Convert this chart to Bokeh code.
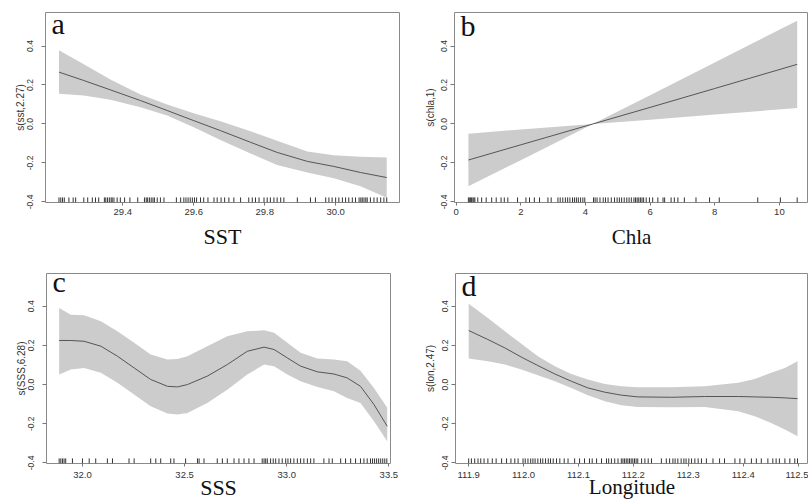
import math
from bokeh.plotting import figure
from bokeh.layouts import row, column
from bokeh.models import Range1d, FixedTicker, NumeralTickFormatter, Label, Title
from bokeh.embed import file_html
from bokeh.resources import INLINE

# ---------------- data ----------------
# (a) SST
a_x = [29.22, 29.29, 29.365, 29.45, 29.525, 29.6, 29.675, 29.76, 29.835, 29.92, 29.995, 30.07, 30.144]
a_fit = [0.266, 0.223, 0.175, 0.120, 0.069, 0.017, -0.034, -0.094, -0.146, -0.192, -0.218, -0.249, -0.275]
a_up = [0.378, 0.306, 0.228, 0.151, 0.100, 0.055, 0.014, -0.038, -0.086, -0.141, -0.160, -0.168, -0.172]
a_lo = [0.155, 0.146, 0.124, 0.086, 0.043, -0.017, -0.082, -0.151, -0.211, -0.249, -0.278, -0.319, -0.378]
a_rug = [29.220, 29.225, 29.230, 29.235, 29.248, 29.260, 29.267, 29.290, 29.301, 29.314, 29.323, 29.332,
         29.348, 29.352, 29.357, 29.362, 29.367, 29.370, 29.375, 29.384, 29.393, 29.405, 29.420, 29.442,
         29.461, 29.466, 29.470, 29.475, 29.480, 29.485, 29.489, 29.497, 29.506, 29.516,
         29.551, 29.563, 29.572, 29.578, 29.584, 29.590, 29.596, 29.602, 29.608, 29.619, 29.628, 29.640,
         29.657, 29.666, 29.677, 29.687, 29.699, 29.713, 29.732, 29.755, 29.765, 29.774, 29.784,
         29.798, 29.807, 29.816, 29.826, 29.835, 29.845, 29.854, 29.892, 29.929, 29.943, 29.972,
         29.981, 29.990, 30.000, 30.009, 30.019, 30.028, 30.037, 30.047, 30.056,
         30.066, 30.071, 30.075, 30.080, 30.085, 30.089, 30.098, 30.108, 30.117, 30.127, 30.136, 30.144]
a_xticks = [29.4, 29.6, 29.8, 30.0]

# (b) Chla
b_x = [0.38, 2.0, 4.23, 6.0, 8.0, 10.55]
b_fit = [-0.185, -0.107, 0.0, 0.085, 0.182, 0.306]
b_up = [-0.050, -0.028, 0.0, 0.148, 0.316, 0.530]
b_lo = [-0.320, -0.186, 0.0, 0.022, 0.048, 0.082]
b_rug = [0.38, 0.42, 0.45, 0.48, 0.52, 0.55, 0.58, 0.67, 0.79, 0.93, 1.10, 1.24, 1.39, 1.49, 1.60, 1.90,
         2.16, 2.27, 2.42, 2.58, 2.84, 2.94, 3.15, 3.22, 3.30, 3.38, 3.45, 3.52, 3.60, 3.66, 3.72, 3.78,
         3.85, 3.92, 3.98, 4.25, 4.30, 4.36, 4.45, 4.55, 4.62, 4.70, 4.80, 4.90, 4.98, 5.05, 5.12, 5.20,
         5.28, 5.35, 5.42, 5.50, 5.55, 5.60, 5.65, 5.70, 5.75, 5.80, 5.88, 5.98, 6.08, 6.24, 6.40, 6.45,
         6.65, 6.75, 6.86, 7.06, 7.42, 7.84, 8.14, 9.33, 10.03, 10.55]
b_xticks = [0, 2, 4, 6, 8, 10]

# (c) SSS
c_x = [31.886, 31.943, 32.008, 32.090, 32.171, 32.253, 32.334, 32.416, 32.465, 32.514, 32.611, 32.709,
       32.807, 32.889, 32.938, 33.003, 33.068, 33.150, 33.231, 33.296, 33.361, 33.427, 33.492]
c_fit = [0.225, 0.225, 0.221, 0.196, 0.145, 0.085, 0.026, -0.009, -0.012, 0.0, 0.043, 0.102,
         0.170, 0.191, 0.179, 0.136, 0.094, 0.065, 0.054, 0.034, -0.009, -0.102, -0.213]
c_up = [0.391, 0.357, 0.354, 0.323, 0.272, 0.213, 0.153, 0.128, 0.131, 0.145, 0.196, 0.247,
        0.272, 0.277, 0.264, 0.213, 0.162, 0.133, 0.128, 0.119, 0.071, -0.017, -0.119]
c_lo = [0.051, 0.077, 0.085, 0.060, 0.009, -0.051, -0.111, -0.148, -0.153, -0.145, -0.094, -0.026,
        0.051, 0.102, 0.094, 0.051, 0.017, -0.012, -0.034, -0.068, -0.094, -0.187, -0.289]
c_rug = [31.886, 31.894, 31.902, 31.910, 31.918, 31.951, 32.000, 32.033, 32.065, 32.122, 32.147, 32.228,
         32.253, 32.334, 32.359, 32.383, 32.432, 32.448, 32.505, 32.563, 32.571, 32.595, 32.660, 32.685,
         32.709, 32.742, 32.766, 32.791, 32.815, 32.840, 32.880, 32.889, 32.897, 32.905, 32.921, 32.934,
         32.946, 32.962, 32.978, 32.995, 33.006, 33.019, 33.035, 33.052, 33.068, 33.084, 33.101, 33.117,
         33.133, 33.182, 33.207, 33.223, 33.264, 33.288, 33.313, 33.337, 33.361, 33.378, 33.394,
         33.410, 33.420, 33.430, 33.440, 33.450, 33.460, 33.470, 33.480, 33.490]
c_xticks = [32.0, 32.5, 33.0, 33.5]

# (d) Longitude
d_x = [111.900, 111.935, 111.966, 111.996, 112.026, 112.057, 112.087, 112.117, 112.148, 112.178,
       112.208, 112.269, 112.330, 112.391, 112.421, 112.451, 112.476, 112.499]
d_fit = [0.276, 0.230, 0.187, 0.140, 0.097, 0.054, 0.017, -0.017, -0.039, -0.054,
         -0.063, -0.065, -0.061, -0.061, -0.063, -0.065, -0.068, -0.072]
d_up = [0.412, 0.340, 0.272, 0.208, 0.145, 0.094, 0.054, 0.026, 0.003, -0.009,
        -0.014, -0.014, -0.009, 0.009, 0.029, 0.060, 0.085, 0.119]
d_lo = [0.133, 0.119, 0.102, 0.077, 0.048, 0.017, -0.017, -0.054, -0.085, -0.106,
        -0.114, -0.116, -0.114, -0.136, -0.162, -0.196, -0.230, -0.264]
d_rug = [111.900, 111.905, 111.911, 111.917, 111.922, 111.928, 111.935, 111.943, 111.950, 111.960,
         111.969, 111.977, 111.984, 111.990, 111.999, 112.003, 112.008, 112.013, 112.017, 112.021,
         112.026, 112.031, 112.035, 112.040, 112.045, 112.049, 112.054, 112.060, 112.066, 112.074,
         112.081, 112.093, 112.102, 112.111, 112.120, 112.125, 112.133, 112.142, 112.151, 112.155,
         112.160, 112.166, 112.172, 112.178, 112.181, 112.184, 112.187, 112.190, 112.193, 112.196,
         112.199, 112.202, 112.205, 112.208, 112.215, 112.221, 112.227, 112.233, 112.251, 112.260,
         112.266, 112.272, 112.276, 112.281, 112.287, 112.292, 112.296, 112.301, 112.306, 112.312,
         112.318, 112.324, 112.333, 112.345, 112.357, 112.366, 112.385, 112.394, 112.403, 112.415,
         112.424, 112.433, 112.445, 112.454, 112.460, 112.466, 112.476, 112.485, 112.494, 112.499]
d_xticks = [111.9, 112.0, 112.1, 112.2, 112.3, 112.4, 112.5]

y_ticks = [-0.4, -0.2, 0.0, 0.2, 0.4]

SANS = "Liberation Sans"
SERIF = "Liberation Serif"


def panel(cfg):
    p = figure(width=cfg["w"], height=cfg["h"],
               x_range=Range1d(*cfg["xr"]), y_range=Range1d(*cfg["yr"]),
               output_backend="svg", toolbar_location=None, min_border=0)
    p.min_border_left = cfg["bl"]
    p.min_border_right = cfg["br"]
    p.min_border_top = cfg["bt"]
    p.min_border_bottom = cfg["bb"]
    p.xgrid.visible = False
    p.ygrid.visible = False
    p.outline_line_color = "#8a8a8a"
    p.outline_line_width = 1
    p.background_fill_color = "white"
    p.border_fill_color = "white"

    x, fit, up, lo = cfg["data"]
    p.varea(x=x, y1=lo, y2=up, fill_color="#cccccc", fill_alpha=1.0)
    p.line(x, fit, line_color="#555555", line_width=1)

    ys = cfg["yr"][0]
    rh = 0.026
    rug = cfg["rug"]
    p.segment(x0=rug, y0=[ys] * len(rug), x1=rug, y1=[ys + rh] * len(rug),
              line_color="#333333", line_width=1)

    xa = p.xaxis[0]
    xa.ticker = FixedTicker(ticks=cfg["xticks"])
    xa.formatter = NumeralTickFormatter(format=cfg["xfmt"])
    xa.axis_line_color = None
    xa.major_tick_line_color = "#777777"
    xa.major_tick_out = 3
    xa.major_tick_in = 0
    xa.minor_tick_line_color = None
    xa.major_label_text_font = SANS
    xa.major_label_text_font_size = "9.5px"
    xa.major_label_text_color = "#333333"
    xa.major_label_standoff = cfg["xms"]
    xa.axis_label = cfg["xlabel"]
    xa.axis_label_text_font = SERIF
    xa.axis_label_text_font_style = "normal"
    xa.axis_label_text_font_size = cfg["xlfs"]
    xa.axis_label_text_color = "#111111"
    xa.axis_label_standoff = cfg["xls"]

    ya = p.yaxis[0]
    ya.ticker = FixedTicker(ticks=y_ticks)
    ya.formatter = NumeralTickFormatter(format="0.0")
    ya.axis_line_color = None
    ya.major_tick_line_color = "#777777"
    ya.major_tick_out = 4
    ya.major_tick_in = 0
    ya.minor_tick_line_color = None
    ya.major_label_orientation = "vertical"
    ya.major_label_text_font = SANS
    ya.major_label_text_font_size = "8.5px"
    ya.major_label_text_color = "#333333"
    ya.major_label_standoff = cfg["yls"]

    p.add_layout(Title(text=cfg["ylabel"], align="center", offset=cfg["ylo"], standoff=cfg["ylst"],
                       text_font=SANS, text_font_size="10px", text_font_style="normal",
                       text_color="#333333"), "left")
    p.add_layout(Label(x=cfg["xr"][0], y=cfg["yr"][1], x_offset=6, y_offset=cfg["lyo"],
                       text=cfg["letter"], text_align="left", text_baseline="alphabetic",
                       text_font=SERIF, text_font_size="30px", text_color="#111111"))
    return p


pa = panel(dict(w=412, h=251, bl=45, br=13, bt=12, bb=49, xr=(29.182, 30.18), yr=(-0.403, 0.572),
                data=(a_x, a_fit, a_up, a_lo), rug=a_rug, xticks=a_xticks, xfmt="0.0", xms=3,
                xlabel="SST", xlfs="22px", xls=6, yls=8, ylo=25, ylst=-3, ylabel="s(sst,2.27)",
                letter="a", lyo=-11))
pb = panel(dict(w=396, h=251, bl=42, br=0, bt=12, bb=49, xr=(-0.05, 10.9), yr=(-0.403, 0.572),
                data=(b_x, b_fit, b_up, b_lo), rug=b_rug, xticks=b_xticks, xfmt="0", xms=3,
                xlabel="Chla", xlfs="21px", xls=7, yls=3, ylo=21, ylst=6, ylabel="s(chla,1)",
                letter="b", lyo=-13))
pc = panel(dict(w=412, h=251, bl=46, br=22, bt=22, bb=39, xr=(31.824, 33.508), yr=(-0.403, 0.567),
                data=(c_x, c_fit, c_up, c_lo), rug=c_rug, xticks=c_xticks, xfmt="0.0", xms=5,
                xlabel="SSS", xlfs="22px", xls=-6, yls=8, ylo=20, ylst=-2, ylabel="s(SSS,6.28)",
                letter="c", lyo=-8))
pd_ = panel(dict(w=396, h=251, bl=43, br=0, bt=22, bb=39, xr=(111.876, 112.519), yr=(-0.403, 0.567),
                 data=(d_x, d_fit, d_up, d_lo), rug=d_rug, xticks=d_xticks, xfmt="0.0", xms=5,
                 xlabel="Longitude", xlfs="21px", xls=-6, yls=3, ylo=18, ylst=7, ylabel="s(lon,2.47)",
                 letter="d", lyo=-12))

layout = column(row(pa, pb), row(pc, pd_))
open("out.html", "w").write(file_html(layout, INLINE))
